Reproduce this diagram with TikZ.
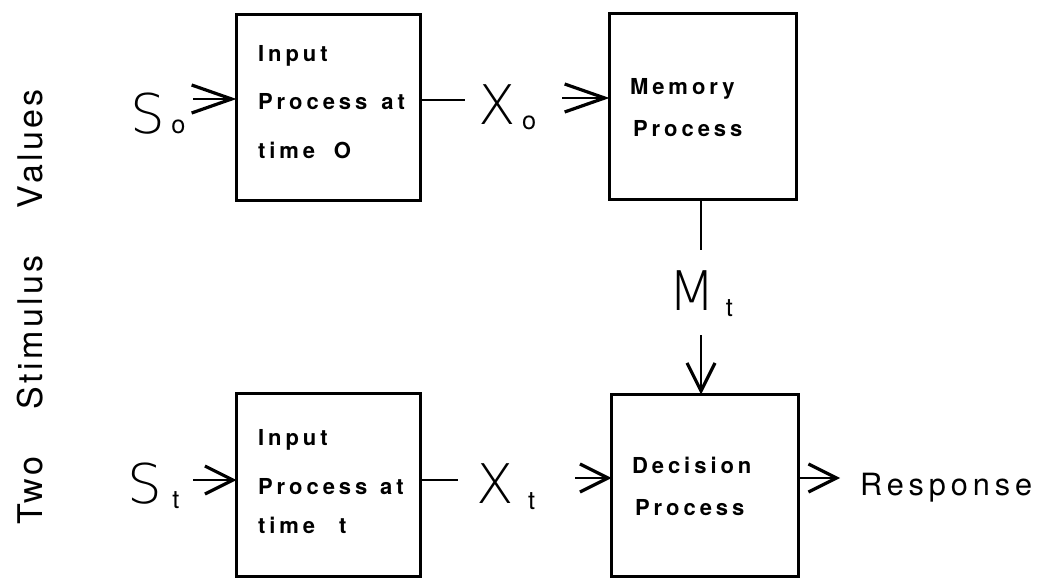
\documentclass[tikz,border=0pt]{standalone}
\usepackage{fontspec}
\setmainfont{TeX Gyre Heros}
\usetikzlibrary{arrows.meta}
\newfontfamily\boxfontfam[LetterSpace=18]{TeX Gyre Heros}
\newfontfamily\respfontfam[LetterSpace=16]{TeX Gyre Heros}
\newfontfamily\sidefontfam[LetterSpace=10]{TeX Gyre Heros}
\newfontfamily\bigfontfam{DejaVuSans-ExtraLight.ttf}
\newfontfamily\subfontfam{TeX Gyre Heros}
\newcommand\boxtxt{\boxfontfam\bfseries\fontsize{16.5pt}{18pt}\selectfont}
\newcommand\resptxt{\respfontfam\fontsize{23pt}{26pt}\selectfont}
\newcommand\sidetxt{\sidefontfam\fontsize{25.5pt}{30pt}\selectfont}
\newcommand\bigtxt{\bigfontfam\fontsize{41pt}{48pt}\selectfont}
\newcommand\subtxt{\subfontfam\fontsize{19pt}{22pt}\selectfont}
\begin{document}
\begin{tikzpicture}[x=0.75pt,y=-0.75pt,
  proc/.style={draw, line width=2.2pt, inner sep=0pt, outer sep=0pt},
  lbl/.style={inner sep=0pt, outer sep=0pt, anchor=base west, font=\boxtxt},
  sym/.style={inner sep=0pt, outer sep=0pt, anchor=base west, font=\bigtxt},
  side/.style={inner sep=0pt, outer sep=0pt, anchor=base west, rotate=90, font=\sidetxt},
  conn/.style={line width=2.2pt},
  arr/.style={line width=2.2pt, -{Straight Barb[length=21pt, width=21pt, line width=2.4pt]}},
  arrlong/.style={line width=2.2pt, -{Straight Barb[length=30pt, width=21pt, line width=2.4pt]}}]
\useasboundingbox (0,0) rectangle (1045,581);

% boxes
\node[proc, minimum width=138pt, minimum height=139.5pt] (in0) at (328.5,107.5) {};
\node[proc, minimum width=140.25pt, minimum height=139.5pt] (mem) at (703,106.5) {};
\node[proc, minimum width=138pt, minimum height=137.25pt] (int) at (328.5,485) {};
\node[proc, minimum width=140.25pt, minimum height=136.5pt] (dec) at (705,485.5) {};

% box texts
\node[lbl] (in0a) at (258,62) {Input};
\node[lbl] (in0b) at (258,110) {Process\hspace{3pt} at};
\node[lbl] (in0c) at (258,159) {time\hspace{14pt}O};
\node[lbl] (mema) at (630,95) {Memory};
\node[lbl] (memb) at (633,137) {Process};
\node[lbl] (inta) at (258,445) {Input};
\node[lbl] (intb) at (258,494) {Process\hspace{2pt} at};
\node[lbl] (intc) at (258,533) {time\hspace{18pt}t};
\node[lbl] (deca) at (632,473) {Decision};
\node[lbl] (decb) at (635,515) {Process};

% symbols
\node[sym] (s0) at (130,134) {S\hspace{5pt}{\subtxt o}};
\node[sym] (x0) at (478,125) {X\hspace{5pt}\raisebox{-3.5pt}{\subtxt o}};
\node[sym] (st) at (127,503) {S\hspace{8pt}\raisebox{-4pt}{\subtxt t}};
\node[sym] (xt) at (476,503) {X\hspace{11pt}\raisebox{-5pt}{\subtxt t}};
\node[sym] (mt) at (668,310) {M\hspace{8pt}\raisebox{-5pt}{\subtxt t}};
\node[inner sep=0pt, outer sep=0pt, anchor=base west, font=\resptxt] (resp) at (860,495) {Response};

% side text
\node[side] (two) at (42,524) {Two};
\node[side] (stim) at (42,409) {Stimulus};
\node[side] (vals) at (42,208) {Values};

% connectors
\coordinate (a0) at (193,99);
\draw[arrlong] (a0) -- (in0.west |- a0);
\coordinate (l0) at (465,100);
\draw[conn] (in0.east |- l0) -- (l0);
\coordinate (a1) at (562,98);
\draw[arrlong] (a1) -- (mem.west |- a1);
\coordinate (m1) at (701,250);
\draw[conn] (mem.south -| m1) -- (m1);
\coordinate (m2) at (701,335);
\draw[arr] (m2) -- (dec.north -| m2);
\coordinate (a2) at (193,480);
\draw[arr] (a2) -- (int.west |- a2);
\coordinate (l1) at (458,480);
\draw[conn] (int.east |- l1) -- (l1);
\coordinate (a3) at (575,478);
\draw[arr] (a3) -- (dec.west |- a3);
\coordinate (a4) at (840,478);
\draw[arr] (dec.east |- a4) -- (a4);
\end{tikzpicture}
\end{document}
